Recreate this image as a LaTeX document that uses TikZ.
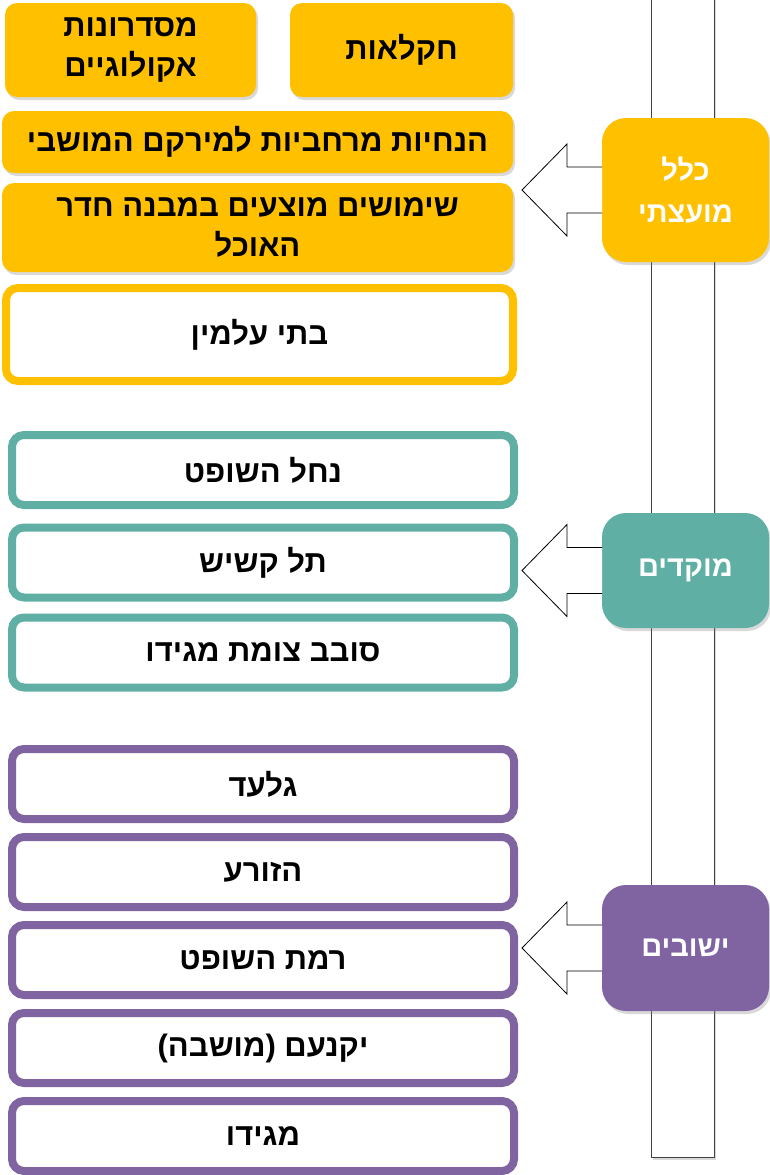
\documentclass[tikz,border=0pt]{standalone}
\usepackage{fontspec}
\newfontfamily\hebfont[Script=Hebrew]{Liberation Sans}
\TeXXeTstate=1
\usetikzlibrary{calc,shadows}
\definecolor{kyellow}{HTML}{FFC000}
\definecolor{kteal}{HTML}{5FAFA5}
\definecolor{kpurple}{HTML}{8064A2}
\newcommand\heb[1]{\beginR #1\endR}

\begin{document}
\begin{tikzpicture}[x=1pt, y=-1pt,
    hebtext/.style={font=\hebfont\bfseries\fontsize{31}{40}\selectfont, align=center, inner sep=0pt, outer sep=0pt},
    shadowed/.style={drop shadow={shadow xshift=2pt, shadow yshift=-3pt, opacity=.3}},
    fillbox/.style={hebtext, shadowed, fill=kyellow, rounded corners=12pt},
    linebox/.style={hebtext, shadowed, draw=#1, fill=white, line width=8pt, rounded corners=12pt},
    catbox/.style={hebtext, shadowed, fill=#1, text=white, rounded corners=24pt, minimum width=167pt,
        font=\hebfont\bfseries\fontsize{29}{42}\selectfont},
    blockarrow/.style={draw=black, fill=white, line width=.8pt, line join=miter}]
\useasboundingbox (0,0) rectangle (769,1175);

% the bar
\draw[fill=white, draw=black!75, line width=1pt, shadowed] (651,-10) rectangle (714,1157);

% yellow group
\node[fillbox, minimum width=223pt, minimum height=94pt] (chak) at (401.5,50) {\heb{חקלאות}};
\node[fillbox, minimum width=251pt, minimum height=94pt] (misd) at (130.5,50) {\heb{מסדרונות}\\\heb{אקולוגיים}};
\node[fillbox, minimum width=511pt, minimum height=62pt] (hanch) at (257.5,142) {\heb{הנחיות מרחביות למירקם המושבי}};
\node[fillbox, minimum width=511pt, minimum height=89pt] (shim) at (257.5,227.5) {\heb{שימושים מוצעים במבנה חדר}\\\heb{האוכל}};
\node[linebox=kyellow, minimum width=507pt, minimum height=93pt] (batei) at (259.5,334.5) {\heb{בתי עלמין}};

% teal group
\foreach \yy/\nm/\tx in {470/nachal/{נחל השופט}, 562.5/tel/{תל קשיש}, 652.5/sovev/{סובב צומת מגידו}}
{
    \node[linebox=kteal, minimum width=502pt, minimum height=70pt] (\nm) at (263,\yy) {\heb{\tx}};
}

% purple group
\foreach \yy/\nm/\tx in {784/gilad/{גלעד}, 872/hazorea/{הזורע}, 960/ramat/{רמת השופט}, 1048/yokneam/{יקנעם (מושבה)}, 1136/megido/{מגידו}}
{
    \node[linebox=kpurple, minimum width=502pt, minimum height=70pt] (\nm) at (263,\yy) {\heb{\tx}};
}

% categories
\node[catbox=kyellow, minimum height=144pt] (kol) at (685.5,190) {\heb{כלל}\\\heb{מועצתי}};
\node[catbox=kteal, minimum height=115pt] (mokdim) at (685.5,570.5) {\heb{מוקדים}};
\node[catbox=kpurple, minimum height=126pt] (yishuvim) at (685.5,948) {\heb{ישובים}};

\foreach \c in {kol,mokdim,yishuvim}
{
    \filldraw[blockarrow] ($(\c.west)+(0,-23)$) -- ++(-35,0) -- ++(0,-23) -- ($(\c.west)+(-80,0)$) -- ($(\c.west)+(-35,46)$) -- ++(0,-23) -- ($(\c.west)+(0,23)$);
}

\end{tikzpicture}
\end{document}
